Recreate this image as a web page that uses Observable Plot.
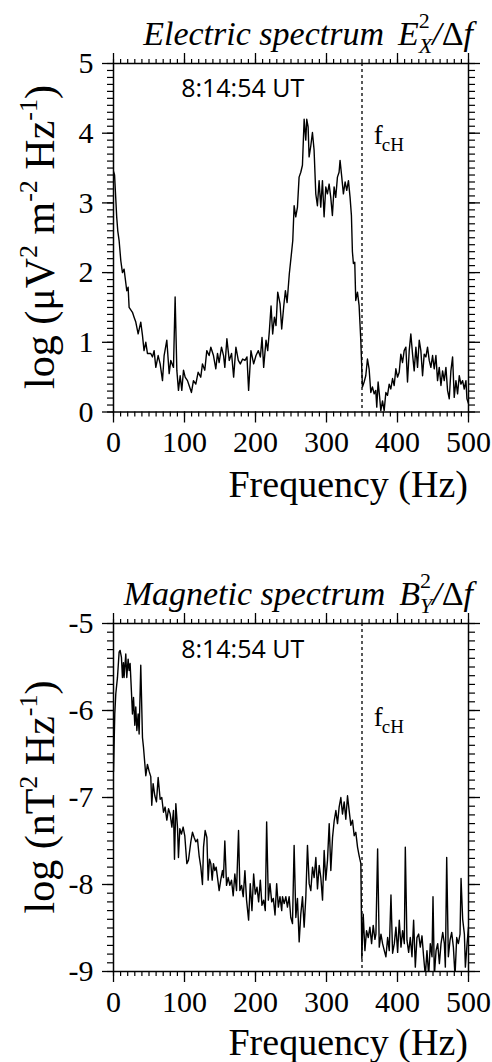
<!DOCTYPE html>
<html>
<head>
<meta charset="utf-8">
<script src="https://cdn.jsdelivr.net/npm/d3@7"></script>
<script src="https://cdn.jsdelivr.net/npm/@observablehq/plot@0.6"></script>
<style>
  html, body { margin: 0; padding: 0; background: white; overflow: hidden; }
  #chart svg { display: block; overflow: visible; font-family: 'Liberation Serif', 'Times New Roman', serif; }
  #chart svg g[aria-label$="tick label"] text { font-family: 'Liberation Serif', 'Times New Roman', serif; }
</style>
</head>
<body>
<div id="chart"></div>
<script>
// ---------- Data ----------
const eFreq = [0,1.5,3,4.5,6,7.9,10.3,12.6,14.9,18.7,20.6,22,26.7,29,31.4,34.7,38.4,40.8,43,45.5,47.8,52.5,54.9,57.2,59.6,62.9,65.7,69,71.3,75.1,78.4,80.7,84.5,86.8,89.2,91.5,93.9,96.2,98.6,100.9,104.2,106.5,109.8,112.6,115.9,119.2,122.9,125.3,128.6,131.4,134.7,137.1,140.8,144.1,146.5,148.8,152.1,155,156.8,159.7,163,166.3,169.2,172.4,175.8,178.6,181.9,185.2,188,190.3,193.6,197.4,200.7,204,206.9,209.2,211.5,214.8,217.2,219.5,221.9,224.2,226.6,228.9,231.3,234.6,236.9,239.8,242.1,244.5,247.6,251.1,252.5,254.4,256.7,259.1,261.4,263.8,266.1,268.5,270.8,272.2,274.1,275.5,277.9,280.2,282.5,284.9,287.2,289.6,291.9,294.3,296.6,299,301.3,303.7,306,308.3,310.7,313,315.4,317.7,319.1,321.5,323.8,326.2,328.5,330.9,333.2,335.1,336.5,337.9,339.8,341.2,343.6,345.9,348.3,350.6,353,355.3,357.7,360,362.4,364.7,367.1,369.4,370.8,372.7,374.6,376.5,378.9,381.2,383.6,385.9,388.3,390.6,393,395.3,397.7,400,402.4,404.7,407.1,409.4,411.8,414.1,416.5,418.8,421.2,423.5,425.9,428.2,430.6,432.9,435.3,437.6,440,442.3,444.7,447,449.4,451.7,454.1,456.4,458.8,461.2,463.5,465.8,468.2,470.5,472.9,475.2,477.6,479.9,482.3,484.6,487,489.3,491.7,494,496.4,497.8,500];
const eVal = [3.45,3.4,3.1,2.8,2.6,2.46,2.17,2.0,2.05,1.74,1.79,1.5,1.43,1.36,1.29,1.12,1.29,1.1,0.88,1.0,0.84,0.84,0.79,0.88,0.64,0.81,0.69,0.45,0.81,1.03,0.55,0.74,0.64,1.65,0.6,0.31,0.52,0.31,0.6,0.5,0.45,0.38,0.28,0.45,0.4,0.57,0.5,0.69,0.6,0.88,0.81,0.93,0.81,0.62,0.84,0.71,0.93,0.81,0.64,1.05,0.74,0.84,0.5,0.93,0.74,0.69,0.76,0.74,0.79,0.31,0.88,0.69,0.81,0.88,0.79,1.07,0.64,1.03,0.88,1.16,1.52,1.12,1.36,1.24,1.72,1.55,1.19,1.52,1.74,1.57,1.98,2.32,2.46,2.96,2.8,2.94,3.37,3.44,3.54,4.2,3.9,4.2,4.09,3.66,3.82,4.01,3.76,3.13,2.96,3.32,2.94,3.32,2.8,3.23,3.13,3.27,3.08,2.82,3.23,3.08,3.37,3.44,3.61,3.37,3.13,3.3,3.18,3.32,3.08,2.82,2.3,2.13,2.15,1.6,1.72,1.53,1.03,0.36,0.43,0.52,0.76,0.62,0.28,0.36,0.26,0.31,0.07,0.43,0.24,0.02,0.16,0.02,0.28,0.24,0.4,0.33,0.48,0.38,0.62,0.5,0.57,0.83,0.71,0.88,0.93,0.43,0.88,1.12,0.83,0.59,0.93,0.64,1.03,0.88,0.52,0.83,0.79,0.93,0.74,0.64,0.81,0.62,0.81,0.45,0.64,0.38,0.59,0.45,0.64,0.31,0.19,0.59,0.79,0.21,0.45,0.26,0.52,0.4,0.45,0.33,0.45,0.19,0.12];

const bFreq = [0,1.8,3.2,5.6,7.9,9.3,11.2,12.6,14,14.9,17.3,18.7,20.6,22,23.4,25.3,26.7,28.2,30,31.4,32.9,34.7,36.1,38.4,40.8,42.2,45.5,47.8,50.2,52.5,53.9,55.8,58.2,60.5,62.9,65.7,68,70.4,72.7,75.1,77.5,79.8,82.2,84.5,85.9,87.8,90.1,91.5,93.4,95.7,98.1,100.4,103.3,105.6,108.9,111.2,113.6,115.9,118.3,120.6,123,125.3,126.8,129.1,131.5,133.3,135.2,137.1,139,140.8,142.7,144.6,146.5,148.8,151.2,153.5,154.9,156.8,159.2,161.5,163.9,166.2,168.6,170.9,173.3,176.1,178,180.4,182.7,185.1,187.4,190.3,192.6,195,197.4,199.7,202.1,204.4,206.8,209.1,211.5,213.8,215.7,218.1,220.4,222.8,225.1,227.5,229.8,232.2,234.5,236.9,238,240.4,242.7,245,247.4,249.7,252.1,254.4,256.8,259.1,261.5,263.8,266.2,268.5,270.9,273.2,275.6,277.9,280.3,282.6,285,287.3,289.7,292,294.4,296.7,299,301.4,303.8,306.1,308.5,310.8,313.2,315.5,317.8,320.2,322.5,324.9,327.2,329.6,331.9,334.3,336.6,339,341.3,343.7,346,348.4,349.8,351.7,354.1,356.4,358.8,361.1,363.5,365.8,368.2,369.6,372,374.3,376.7,379,381.4,383.7,386.1,388.4,390.8,393.1,395.5,397.8,400.2,402.5,404.9,407.2,409.6,411,413.3,415.7,418,420.4,422.7,425.1,427.4,429.8,432.1,434.5,436.8,439.2,441.5,443.9,446.2,448.6,450,451.9,454.3,456.6,459,461.3,463.7,466,467.4,469.3,471.6,474,476.3,478.7,481,483.4,485.7,488.1,489.5,491.8,494.2,495.6,498,500];
const bVal = [-6.7,-6.04,-5.81,-5.62,-5.33,-5.31,-5.39,-5.62,-5.45,-5.62,-5.35,-5.62,-5.41,-5.54,-5.46,-5.79,-6.04,-5.85,-6.17,-5.96,-6.23,-6.04,-6.27,-5.48,-6.31,-6.42,-6.75,-6.62,-6.7,-6.76,-7.09,-6.84,-6.98,-7.05,-6.77,-7.02,-7.0,-7.17,-7.11,-7.26,-7.13,-7.19,-7.34,-7.15,-7.71,-7.07,-7.34,-7.69,-7.36,-7.42,-7.34,-7.44,-7.76,-7.72,-7.51,-7.4,-7.46,-7.51,-7.48,-7.67,-7.8,-8.0,-7.57,-7.38,-7.46,-7.95,-7.71,-7.76,-7.95,-7.76,-7.84,-7.8,-7.92,-8.07,-7.94,-7.84,-7.92,-7.5,-8.01,-7.92,-8.01,-7.95,-8.13,-7.88,-8.07,-7.38,-8.07,-8.01,-8.14,-7.84,-8.18,-8.41,-7.99,-8.3,-7.88,-8.11,-8.03,-8.2,-7.95,-8.24,-8.18,-8.3,-7.28,-8.18,-7.99,-8.2,-8.16,-8.35,-7.99,-8.26,-8.14,-8.3,-8.14,-8.22,-8.14,-8.26,-8.14,-8.38,-8.45,-7.55,-8.38,-8.16,-8.66,-8.34,-8.14,-8.49,-8.14,-7.55,-7.99,-8.07,-7.8,-7.92,-7.69,-8.05,-7.78,-7.92,-8.18,-7.61,-7.95,-7.72,-7.3,-7.84,-7.46,-7.27,-7.15,-7.3,-7.11,-7.0,-7.19,-7.05,-7.25,-6.98,-7.15,-7.32,-7.26,-7.44,-7.4,-7.57,-7.67,-7.76,-8.85,-8.34,-8.76,-8.53,-8.61,-8.49,-8.68,-8.47,-8.63,-8.57,-7.59,-8.72,-8.57,-8.68,-8.76,-8.83,-8.61,-8.76,-8.12,-8.79,-8.68,-8.49,-8.78,-8.41,-8.72,-8.53,-8.68,-7.57,-8.64,-8.78,-8.61,-8.83,-8.41,-8.95,-8.61,-8.57,-8.72,-8.59,-8.83,-9.05,-8.76,-9.05,-8.68,-8.83,-8.14,-9.05,-8.76,-8.68,-8.91,-8.68,-8.55,-8.68,-8.95,-7.69,-8.83,-8.64,-8.55,-8.72,-9.05,-8.61,-8.68,-8.57,-7.93,-8.4,-8.57,-8.95,-8.68,-8.49];

const xMajor = [0, 100, 200, 300, 400, 500];
const xMinorStep = 10;
const eYMajor = [0, 1, 2, 3, 4, 5];
const bYMajor = [-9, -8, -7, -6, -5];
const yMinorStep = 0.1;
const fcH = 350;
const timeLabel = "8:14:54 UT";
const xLabel = "Frequency (Hz)";

// ---------- helpers ----------
const serif = "'Liberation Serif', 'Times New Roman', serif";
const xMinor = d3.range(0, 500 + 1e-9, xMinorStep);
const minorTicks = (lo, hi) => d3.range(Math.round((hi - lo) / yMinorStep) + 1).map(i => +(lo + i * yMinorStep).toFixed(2));

const eData = eFreq.map((f, i) => ({f, v: eVal[i]}));
const bData = bFreq.map((f, i) => ({f, v: bVal[i]}));

function panel({data, yDomain, yMajor, height, marginTop, marginBottom, utY, fcY}) {
  const yMinor = minorTicks(yDomain[0], yDomain[1]);
  const noText = () => "";
  return Plot.plot({
    width: 492,
    height,
    marginTop,
    marginBottom,
    marginLeft: 113,
    marginRight: 24,
    style: {fontFamily: serif, fontSize: "30px", color: "black", background: "white", overflow: "visible"},
    x: {domain: [0, 500]},
    y: {domain: yDomain},
    marks: [
      Plot.axisX(xMinor, {anchor: "bottom", tickSize: 5, tickFormat: noText, label: null, strokeWidth: 1.2}),
      Plot.axisX(xMinor, {anchor: "top", tickSize: 5, tickFormat: noText, label: null, strokeWidth: 1.2}),
      Plot.axisY(yMinor, {anchor: "left", tickSize: 6, tickFormat: noText, label: null, strokeWidth: 1.2}),
      Plot.axisY(yMinor, {anchor: "right", tickSize: 6, tickFormat: noText, label: null, strokeWidth: 1.2}),
      Plot.axisX(xMajor, {anchor: "bottom", tickSize: 11, tickPadding: 8, tickFormat: d => String(d), label: null, strokeWidth: 1.3, fontSize: 30, fontFamily: serif}),
      Plot.axisX(xMajor, {anchor: "top", tickSize: 11, tickFormat: noText, label: null, strokeWidth: 1.3}),
      Plot.axisY(yMajor, {anchor: "left", tickSize: 11, tickPadding: 9, tickFormat: d => String(d), label: null, strokeWidth: 1.3, fontSize: 30, fontFamily: serif}),
      Plot.axisY(yMajor, {anchor: "right", tickSize: 11, tickFormat: noText, label: null, strokeWidth: 1.3}),
      Plot.ruleX([fcH], {stroke: "black", strokeWidth: 1.3, strokeDasharray: "3,3"}),
      Plot.line(data, {x: "f", y: "v", stroke: "black", strokeWidth: 1.4, clip: true}),
      Plot.text([timeLabel], {x: 182, y: utY, text: d => d, fontFamily: "'Open Sans', sans-serif", fontSize: 25, fill: "black"}),
      Plot.text(["f"], {x: 366.6, y: fcY, text: d => d, textAnchor: "start", lineAnchor: "bottom", fontFamily: serif, fontSize: 27, fill: "black"}),
      Plot.text(["cH"], {x: 366.6, y: fcY, text: d => d, textAnchor: "start", lineAnchor: "bottom", dx: 8, dy: 7, fontFamily: serif, fontSize: 19, fill: "black"}),
      Plot.frame({stroke: "black", strokeWidth: 1.5})
    ]
  });
}

function addTitle(svg, y, name, letter, sub) {
  const t = d3.select(svg).append("text")
    .attr("x", 473).attr("y", y)
    .attr("text-anchor", "end")
    .attr("font-family", serif).attr("font-style", "italic").attr("font-size", 34)
    .attr("fill", "black");
  t.append("tspan").text(name);
  t.append("tspan").attr("dx", 14).text(letter);
  t.append("tspan").attr("font-size", 22).attr("font-style", "normal").attr("dy", -17).text("2");
  t.append("tspan").attr("font-size", 22).attr("dx", -11).attr("dy", 25).text(sub);
  t.append("tspan").attr("dy", -8).text("/");
  t.append("tspan").attr("font-style", "normal").text("Δ");
  t.append("tspan").text("f");
}

function addYLabel(svg, cx, cy, parts) {
  const t = d3.select(svg).append("text")
    .attr("transform", `translate(${cx},${cy}) rotate(-90)`)
    .attr("text-anchor", "middle")
    .attr("font-family", serif).attr("font-size", 42).attr("fill", "black");
  let first = true;
  for (const [s, sup] of parts) {
    if (sup) t.append("tspan").attr("font-size", 26).attr("dy", -17).text(s);
    else t.append("tspan").attr("dy", first ? 0 : 17).text(s);
    first = false;
  }
}

function addXLabel(svg, y) {
  d3.select(svg).append("text")
    .attr("x", 468).attr("y", y).attr("text-anchor", "end")
    .attr("font-family", serif).attr("font-size", 38).attr("fill", "black")
    .text(xLabel);
}

// ---------- top panel ----------
const topPanel = panel({data: eData, yDomain: [0, 5], yMajor: eYMajor, height: 520, marginTop: 63, marginBottom: 108.5, utY: 4.63, fcY: 3.85});
addTitle(topPanel, 45, "Electric spectrum", "E", "X");
addYLabel(topPanel, 54, 237, [["log (μV", false], ["2", true], [" m", false], ["-2", true], [" Hz", false], ["-1", true], [")", false]]);
addXLabel(topPanel, 497);

// ---------- bottom panel ----------
const bottomPanel = panel({data: bData, yDomain: [-9, -5], yMajor: bYMajor, height: 542, marginTop: 103, marginBottom: 91, utY: -5.31, fcY: -6.18});
addTitle(bottomPanel, 85, "Magnetic spectrum", "B", "Y");
addYLabel(bottomPanel, 54, 277, [["log (nT", false], ["2", true], [" Hz", false], ["-1", true], [")", false]]);
addXLabel(bottomPanel, 535);

document.getElementById("chart").append(topPanel, bottomPanel);
</script>
</body>
</html>
